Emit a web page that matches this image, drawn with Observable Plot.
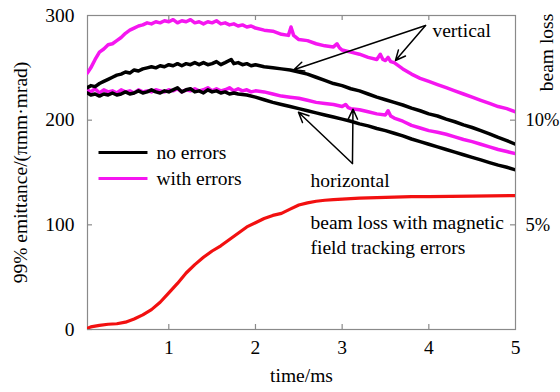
<!DOCTYPE html>
<html><head><meta charset="utf-8">
<script src="https://cdn.jsdelivr.net/npm/d3@7"></script>
<script src="https://cdn.jsdelivr.net/npm/@observablehq/plot@0.6"></script>
<style>html,body{margin:0;padding:0;background:#fff;} svg{display:block}</style>
</head><body><div id="chart"></div>
<script>
// tick labels
const xTicks = [1, 2, 3, 4, 5];
const yTicks = [0, 100, 200, 300];
const lossTicks = [5, 10];          // beam loss in %
const lossScale = 20;               // 1% beam loss = 20 units on left axis

// series: [time (ms), 99% emittance (π mm·mrad)]
const vertWithErrors = [[0.06,245],[0.1,250],[0.15,258],[0.2,265],[0.25,268],[0.3,272],[0.35,273],[0.4,276],[0.45,279],[0.5,283],[0.55,286],[0.6,288],[0.65,290],[0.7,291],[0.75,293],[0.8,292],[0.85,294],[0.9,293],[0.95,295],[1.0,294],[1.05,296],[1.1,293],[1.15,295],[1.2,294],[1.25,296],[1.3,293],[1.35,294],[1.4,292],[1.45,294],[1.5,293],[1.55,295],[1.6,292],[1.65,293],[1.7,291],[1.75,292],[1.8,290],[1.85,291],[1.9,289],[1.95,290],[2.0,288],[2.1,286],[2.2,285],[2.3,282],[2.38,281],[2.41,289],[2.44,281],[2.5,277],[2.6,276],[2.7,273],[2.8,271],[2.9,270],[2.94,273],[2.97,269],[3.0,267],[3.1,265],[3.2,263],[3.3,260],[3.4,258],[3.44,263],[3.47,258],[3.5,257],[3.53,260],[3.56,256],[3.6,255],[3.7,249],[3.8,244],[3.9,240],[4.0,237],[4.1,234],[4.2,231],[4.3,228],[4.4,225],[4.5,222],[4.6,219],[4.7,216],[4.8,213],[4.9,211],[5.0,208]];
const vertNoErrors = [[0.06,231],[0.1,233],[0.15,232],[0.2,235],[0.25,237],[0.3,239],[0.35,241],[0.4,243],[0.45,244],[0.5,246],[0.55,245],[0.6,248],[0.65,247],[0.7,249],[0.75,250],[0.8,251],[0.85,250],[0.9,252],[0.95,251],[1.0,253],[1.05,252],[1.1,254],[1.15,252],[1.2,254],[1.25,253],[1.3,255],[1.35,253],[1.4,255],[1.45,253],[1.5,254],[1.55,256],[1.6,253],[1.65,255],[1.72,258],[1.75,254],[1.8,255],[1.85,253],[1.9,254],[1.95,252],[2.0,253],[2.1,251],[2.2,250],[2.3,249],[2.4,248],[2.5,246],[2.6,244],[2.7,241],[2.8,238],[2.9,235],[3.0,233],[3.1,230],[3.2,228],[3.3,225],[3.4,222],[3.5,219.5],[3.6,217],[3.7,214.5],[3.8,211.5],[3.9,209],[4.0,206],[4.1,204],[4.2,201],[4.3,198.5],[4.4,195.5],[4.5,193],[4.6,190],[4.7,187],[4.8,183.5],[4.9,180.5],[5.0,177]];
const horizNoErrors = [[0.06,226],[0.1,224],[0.15,225],[0.2,223],[0.25,225],[0.3,224],[0.35,226],[0.4,224],[0.45,225],[0.5,227],[0.55,225],[0.6,226],[0.65,228],[0.7,226],[0.75,227],[0.8,229],[0.85,227],[0.9,226],[0.95,228],[1.0,227],[1.05,229],[1.1,231],[1.15,227],[1.2,229],[1.25,230],[1.3,227],[1.35,228],[1.4,226],[1.45,229],[1.5,227],[1.55,228],[1.6,226],[1.65,227],[1.7,225],[1.75,226],[1.8,225],[1.9,224],[2.0,222],[2.1,219.5],[2.2,217],[2.3,215],[2.4,213],[2.5,211],[2.6,209],[2.7,207],[2.8,205],[2.9,203],[3.0,201],[3.1,199],[3.2,196.5],[3.3,194.5],[3.4,192],[3.5,190],[3.6,187.5],[3.7,185],[3.8,182],[3.9,179.5],[4.0,177],[4.1,174.5],[4.2,172],[4.3,169.5],[4.4,167],[4.5,164.5],[4.6,162],[4.7,159.5],[4.8,157],[4.9,155],[5.0,152.5]];
const horizWithErrors = [[0.06,229],[0.1,227],[0.15,230],[0.2,226],[0.25,229],[0.3,227],[0.35,228],[0.4,226],[0.45,229],[0.5,227],[0.55,228],[0.6,226],[0.65,229],[0.7,227],[0.75,228],[0.8,227],[0.85,229],[0.9,228],[0.95,227],[1.0,229],[1.05,228],[1.1,230],[1.15,227],[1.2,229],[1.25,228],[1.3,230],[1.35,228],[1.4,229],[1.45,231],[1.5,228],[1.55,230],[1.6,228],[1.65,229],[1.7,231],[1.75,228],[1.8,230],[1.85,228],[1.9,229],[1.95,227],[2.0,228],[2.1,227],[2.2,225],[2.3,223],[2.4,222],[2.5,221],[2.6,219],[2.7,217],[2.8,216],[2.9,215],[3.0,213],[3.04,215],[3.07,212],[3.1,211],[3.2,210],[3.3,208],[3.4,206],[3.5,205],[3.53,209],[3.56,204],[3.6,202],[3.7,199],[3.8,195],[3.9,192.5],[4.0,190],[4.1,188.5],[4.2,186.5],[4.3,184],[4.4,181.5],[4.5,179.5],[4.6,177],[4.7,174.5],[4.8,172],[4.9,170],[5.0,168]];
// beam loss curve, drawn in left-axis units (% × lossScale)
const beamLoss = [[0.06,1],[0.1,2.5],[0.2,4],[0.3,5],[0.4,5.5],[0.5,7],[0.6,10],[0.7,14],[0.8,19],[0.9,26],[1.0,35],[1.1,44],[1.2,54],[1.3,62],[1.4,69],[1.5,75],[1.6,80],[1.7,86],[1.8,92],[1.9,98],[2.0,102],[2.1,106],[2.2,109],[2.3,111],[2.4,115],[2.5,119],[2.6,121],[2.7,122.5],[2.8,123.5],[2.9,124],[3.0,124.5],[3.2,125.5],[3.4,126],[3.6,126.5],[3.8,127],[4.0,127],[4.5,127.5],[5.0,128]];

const MAG = "#f516f0", RED = "#f21010", GRID = "#8a8a8a";
const FONT = "Liberation Serif, Times New Roman, Times, DejaVu Serif, serif";
const W = 560, H = 392, mL = 87, mR = 45, mT = 15, mB = 63;
const innerW = W - mL - mR, innerH = H - mT - mB;
const FS = 19.5;

const series = [
  {data: vertWithErrors, color: MAG, sw: 3.5},
  {data: horizWithErrors, color: MAG, sw: 3.5},
  {data: vertNoErrors, color: "black", sw: 3.5},
  {data: horizNoErrors, color: "black", sw: 3.5},
  {data: beamLoss, color: RED, sw: 3.2}
];

const legend = [
  {label: "no errors", color: "black", y: 169},
  {label: "with errors", color: MAG, y: 144.3}
];

const arrows = [
  {x1: 3.962, y1: 290.4, x2: 2.442, y2: 248.1},
  {x1: 3.962, y1: 290.4, x2: 3.615, y2: 257},
  {x1: 3.119, y1: 158.6, x2: 2.496, y2: 207.6},
  {x1: 3.119, y1: 158.6, x2: 3.125, y2: 210.5}
];

const T = (data, opts) => Plot.text(data, {fontSize: FS, fill: "black", ...opts});

const plot = Plot.plot({
  width: W, height: H,
  marginLeft: mL, marginRight: mR, marginTop: mT, marginBottom: mB,
  style: {fontSize: FS + "px", background: "#fff", color: "black"},
  x: {domain: [0.062, 5], axis: null},
  y: {domain: [0, 300], axis: null},
  marks: [
    Plot.frame({stroke: GRID, strokeWidth: 1.2}),
    // inward ticks
    Plot.tickX(xTicks.filter(d => d < 5), {x: d => d, stroke: GRID, strokeWidth: 1.2, insetTop: innerH - 5}),
    Plot.tickX(xTicks.filter(d => d < 5), {x: d => d, stroke: GRID, strokeWidth: 1.2, insetBottom: innerH - 5}),
    Plot.tickY(yTicks.filter(d => d < 300), {y: d => d, stroke: GRID, strokeWidth: 1.2, insetRight: innerW - 5}),
    Plot.tickY(lossTicks, {y: d => d * lossScale, stroke: GRID, strokeWidth: 1.2, insetLeft: innerW - 5}),
    // tick labels
    T(xTicks, {x: d => d, frameAnchor: "bottom", dy: 24, textAnchor: "middle", text: d => String(d)}),
    T(yTicks, {y: d => d, frameAnchor: "left", dx: -13, textAnchor: "end", text: d => String(d)}),
    T(lossTicks, {y: d => d * lossScale, frameAnchor: "right", dx: 10, textAnchor: "start", fontSize: 18.5, text: d => d + "%"}),
    // axis titles
    T(["99% emittance/(πmm·mrad)"], {frameAnchor: "left", dx: -67, textAnchor: "middle", rotate: -90}),
    T(["time/ms"], {frameAnchor: "bottom", dy: 52, textAnchor: "middle"}),
    T(["beam loss"], {frameAnchor: "top-right", dx: 24, dy: 37, textAnchor: "middle", rotate: -90}),
    // curves
    ...series.map(s => Plot.line(s.data, {x: d => d[0], y: d => d[1], stroke: s.color, strokeWidth: s.sw, strokeLinejoin: "round", clip: true})),
    // legend
    Plot.link(legend, {x1: 0.189, x2: 0.754, y1: "y", y2: "y", stroke: "color", strokeWidth: 3}),
    T(legend, {x: 0.858, y: "y", text: "label", textAnchor: "start"}),
    // annotations
    Plot.arrow(arrows, {x1: "x1", y1: "y1", x2: "x2", y2: "y2", stroke: "black", strokeWidth: 1.5, headLength: 11, headAngle: 50}),
    T(["vertical"], {x: 4.042, y: 285.7, textAnchor: "start"}),
    T(["horizontal"], {x: 2.635, y: 142.4, textAnchor: "start"}),
    T(["beam loss with magnetic\nfield tracking errors"], {x: 2.635, y: 91.7, textAnchor: "start", lineHeight: 1.25})
  ]
});
plot.setAttribute("font-family", FONT);
plot.style.fontFamily = FONT;
plot.querySelectorAll("text").forEach(t => t.style.fontFamily = FONT);
document.getElementById("chart").appendChild(plot);
</script>
</body></html>
